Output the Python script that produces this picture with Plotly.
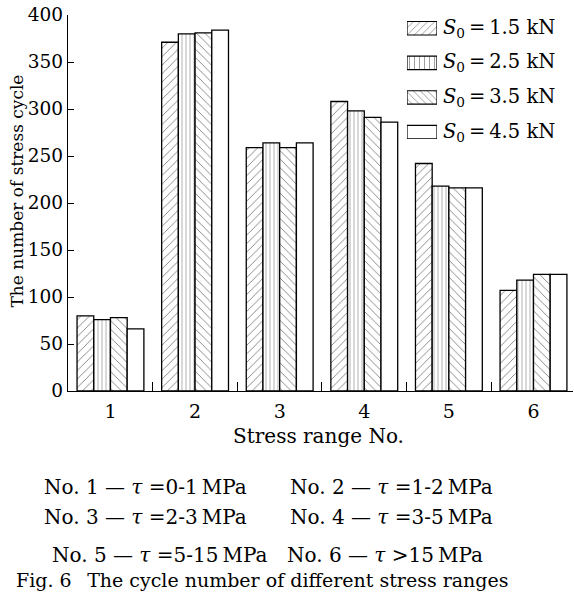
import plotly.graph_objects as go

# ---- data ----
stress_range = [1, 2, 3, 4, 5, 6]
series_names = ["1.5", "2.5", "3.5", "4.5"]
s0_15 = [80, 371, 259, 308, 242, 107]
s0_25 = [76, 380, 264, 298, 218, 118]
s0_35 = [78, 381, 259, 291, 216, 124]
s0_45 = [66, 384, 264, 286, 216, 124]
series_vals = [s0_15, s0_25, s0_35, s0_45]
patterns = ["/", "|", "\\", ""]
pattern_sizes = [6, 4, 6, 6]
y_ticks = [0, 50, 100, 150, 200, 250, 300, 350, 400]
captions_left = ["No. 1 \u2014 <i>\u03c4</i> =0-1\u2009MPa", "No. 3 \u2014 <i>\u03c4</i> =2-3\u2009MPa",
                 "No. 5 \u2014 <i>\u03c4</i> =5-15\u2009MPa"]
captions_right = ["No. 2 \u2014 <i>\u03c4</i> =1-2\u2009MPa", "No. 4 \u2014 <i>\u03c4</i> =3-5\u2009MPa",
                  "No. 6 \u2014 <i>\u03c4</i> >15\u2009MPa"]
fig_caption = "Fig. 6\u2002 The cycle number of different stress ranges"

W, H = 574, 596
L, R, T, B = 68, 1, 15, 205
PW = W - L - R
PH = H - T - B
FONT = "DejaVu Serif, Liberation Serif, serif"

def px(x):
    return (x - L) / PW

def py(y):
    return (H - B - y) / PH

fig = go.Figure()
for name, vals, pat, ps in zip(series_names, series_vals, patterns, pattern_sizes):
    fig.add_trace(go.Bar(
        x=stress_range, y=vals, name=name, showlegend=False,
        marker=dict(color="white", line=dict(color="black", width=1.3),
                    pattern=dict(shape=pat, fgcolor="black", bgcolor="white",
                                 size=ps, solidity=0.15)),
    ))

# boundary tick marks (empty trace on overlay axis)
fig.add_trace(go.Scatter(x=[1.5], y=[None], xaxis="x2", yaxis="y", showlegend=False,
                         hoverinfo="skip", mode="markers"))

# legend swatches in inset axis
fig.add_trace(go.Bar(
    x=[1, 1, 1, 1], y=list(range(len(series_names))), orientation="h",
    xaxis="x3", yaxis="y3", width=0.39, showlegend=False, hoverinfo="skip",
    marker=dict(color="white", line=dict(color="black", width=1.2),
                pattern=dict(shape=patterns, fgcolor="black", bgcolor="white",
                             size=5, solidity=0.15)),
))

annotations = []
for i, n in enumerate(series_names):
    annotations.append(dict(
        x=px(441), y=i, xref="paper", yref="y3", xanchor="left", yanchor="middle",
        text="<i>S</i><sub>0</sub>\u2009=\u2009" + n + " kN", showarrow=False,
        font=dict(family=FONT, size=19.5, color="black")))

def ann(text, x, y, size, xanchor="center", angle=0):
    return dict(x=px(x), y=py(y), xref="paper", yref="paper", xanchor=xanchor,
                yanchor="middle", textangle=angle, text=text, showarrow=False,
                font=dict(family=FONT, size=size, color="black"))

annotations.append(ann("The number of stress cycle", 16, 191.5, 17, angle=-90))
annotations.append(ann("Stress range No.", 318, 436, 20))

left_x = [42, 42, 50]
right_x = [288, 288, 285]
row_y = [487, 517, 555]
for t, xl, yy in zip(captions_left, left_x, row_y):
    annotations.append(ann(t, xl, yy, 20, xanchor="left"))
for t, xr, yy in zip(captions_right, right_x, row_y):
    annotations.append(ann(t, xr, yy, 20, xanchor="left"))
annotations.append(ann(fig_caption, 262, 580, 19))

fig.update_layout(
    width=W, height=H,
    margin=dict(l=L, r=R, t=T, b=B, pad=0),
    paper_bgcolor="white", plot_bgcolor="white",
    barmode="group", bargap=0.21, bargroupgap=0,
    font=dict(family=FONT, size=18, color="black"),
    xaxis=dict(range=[0.498, 6.467], tickvals=stress_range, ticks="", showgrid=False,
               zeroline=False, showline=True, linecolor="black", linewidth=1.3,
               tickfont=dict(size=19), ticklabelstandoff=3),
    xaxis2=dict(range=[0.498, 6.467], overlaying="x", anchor="y", side="bottom",
                tickvals=[1.5, 2.5, 3.5, 4.5, 5.5], ticks="inside", ticklen=9, tickwidth=1.2,
                tickcolor="black", showticklabels=False, showgrid=False, zeroline=False,
                showline=False),
    yaxis=dict(range=[0, 400], tickvals=y_ticks, ticks="inside", ticklen=6, tickwidth=1.2,
               tickcolor="black", showgrid=False, zeroline=False, showline=True,
               linecolor="black", linewidth=1.3, tickfont=dict(size=18.5)),
    xaxis3=dict(domain=[px(407), px(437)], range=[0, 1], anchor="y3", visible=False,
                fixedrange=True),
    yaxis3=dict(domain=[py(139), py(21)], range=[3.2, -0.21], anchor="x3", visible=False,
                fixedrange=True),
    annotations=annotations,
)

fig.write_html("out.html")
